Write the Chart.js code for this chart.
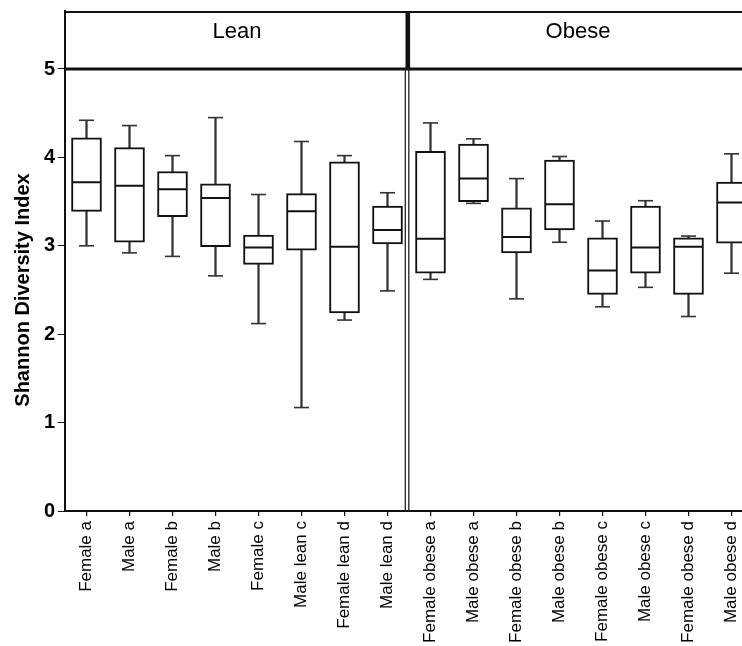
<!DOCTYPE html>
<html>
<head>
<meta charset="utf-8">
<script src="https://cdn.jsdelivr.net/npm/chart.js@4.4.0/dist/chart.umd.min.js"></script>
<style>
  html, body { margin: 0; padding: 0; background: #fff; overflow: hidden; width: 742px; height: 646px; }
  canvas { display: block; }
</style>
</head>
<body>
<canvas id="c" width="756" height="646"></canvas>
<script>
// Groups along the x axis (first eight lean, last eight obese)
const categories = [
  'Female a', 'Male a', 'Female b', 'Male b',
  'Female c', 'Male lean c', 'Female lean d', 'Male lean d',
  'Female obese a', 'Male obese a', 'Female obese b', 'Male obese b',
  'Female obese c', 'Male obese c', 'Female obese d', 'Male obese d'
];

// Five-number summaries of the Shannon index per group
const mins    = [3.00, 2.92, 2.88, 2.66, 2.12, 1.17, 2.16, 2.49, 2.62, 3.48, 2.40, 3.04, 2.31, 2.53, 2.20, 2.69];
const q1s     = [3.39, 3.04, 3.33, 2.99, 2.79, 2.95, 2.24, 3.02, 2.69, 3.50, 2.92, 3.18, 2.45, 2.69, 2.45, 3.03];
const medians = [3.72, 3.68, 3.64, 3.54, 2.98, 3.39, 2.99, 3.18, 3.08, 3.76, 3.10, 3.47, 2.72, 2.98, 2.99, 3.49];
const q3s     = [4.22, 4.11, 3.84, 3.70, 3.12, 3.59, 3.95, 3.45, 4.07, 4.15, 3.43, 3.97, 3.09, 3.45, 3.09, 3.72];
const maxs    = [4.42, 4.36, 4.02, 4.45, 3.58, 4.18, 4.02, 3.60, 4.39, 4.21, 3.76, 4.01, 3.28, 3.51, 3.11, 4.04];

// Panel strip labels and the number of groups in each panel
const panelNames = ['Lean', 'Obese'];
const panelSize = 8;

// Value axis: ticks 0..5, strip area above 5
const yTickValues = [0, 1, 2, 3, 4, 5];
const stripBottom = 5;
const yTop = 5.656;
const yTitle = 'Shannon Diversity Index';

const boxes = categories.map((_, i) => [q1s[i], q3s[i]]);
const whiskers = categories.map((_, i) => [mins[i], maxs[i]]);

const INK = '#111';
const WHISKER = '#333';

// Panel strip, panel divider and the rotated axis title
const panelFrame = {
  id: 'panelFrame',
  afterDraw(chart) {
    const { ctx, chartArea: a } = chart;
    const xs = chart.scales.x, ys = chart.scales.y;
    const yStrip = ys.getPixelForValue(stripBottom);
    const xd = (xs.getPixelForTick(panelSize - 1) + xs.getPixelForTick(panelSize)) / 2;
    ctx.save();
    ctx.strokeStyle = INK;
    // strip top edge
    ctx.lineWidth = 2;
    ctx.beginPath(); ctx.moveTo(a.left, a.top + 1); ctx.lineTo(a.right, a.top + 1); ctx.stroke();
    // strip bottom edge (at 5)
    ctx.lineWidth = 3;
    ctx.beginPath(); ctx.moveTo(a.left, yStrip); ctx.lineTo(a.right, yStrip); ctx.stroke();
    // divider inside the strip
    ctx.lineWidth = 4.6;
    ctx.beginPath(); ctx.moveTo(xd - 1.2, a.top); ctx.lineTo(xd - 1.2, yStrip); ctx.stroke();
    // double divider inside the plot
    ctx.lineWidth = 1.3;
    ctx.strokeStyle = '#222';
    ctx.beginPath();
    ctx.moveTo(xd - 3.7, yStrip); ctx.lineTo(xd - 3.7, a.bottom + 1);
    ctx.moveTo(xd - 0.2, yStrip); ctx.lineTo(xd - 0.2, a.bottom + 1);
    ctx.stroke();
    // strip labels
    ctx.fillStyle = '#000';
    ctx.font = '22px "Liberation Sans", Arial, sans-serif';
    ctx.textAlign = 'center';
    ctx.textBaseline = 'alphabetic';
    ctx.fillText(panelNames[0], (a.left + xd) / 2, a.top + 27);
    ctx.fillText(panelNames[1], (xd + a.right) / 2 - 3, a.top + 27);
    // axis title, centred on the 0..5 range
    const yMid = (ys.getPixelForValue(0) + yStrip) / 2;
    ctx.font = 'bold 20px "Liberation Sans", Arial, sans-serif';
    ctx.translate(28.5, yMid);
    ctx.rotate(-Math.PI / 2);
    ctx.fillText(yTitle, 0, 0);
    ctx.restore();
  }
};

new Chart(document.getElementById('c'), {
  type: 'bar',
  data: {
    labels: categories,
    datasets: [
      {
        type: 'line', label: 'median', data: medians, order: 0,
        showLine: false, pointStyle: 'line', pointRadius: 14.5, pointHoverRadius: 14.5,
        pointBorderWidth: 2, pointBorderColor: INK, borderColor: INK
      },
      {
        label: 'box', data: boxes, order: 1, grouped: false,
        barThickness: 30, backgroundColor: '#fff', borderColor: INK,
        borderWidth: 2, borderSkipped: false
      },
      {
        type: 'line', label: 'max', data: maxs, order: 2,
        showLine: false, pointStyle: 'line', pointRadius: 7.5, pointHoverRadius: 7.5,
        pointBorderWidth: 1.6, pointBorderColor: WHISKER, borderColor: WHISKER
      },
      {
        type: 'line', label: 'min', data: mins, order: 2,
        showLine: false, pointStyle: 'line', pointRadius: 7.5, pointHoverRadius: 7.5,
        pointBorderWidth: 1.6, pointBorderColor: WHISKER, borderColor: WHISKER
      },
      {
        label: 'whisker', data: whiskers, order: 3, grouped: false,
        barThickness: 1.6, backgroundColor: WHISKER, borderWidth: 0
      }
    ]
  },
  options: {
    responsive: false,
    animation: false,
    events: [],
    layout: { autoPadding: false, padding: { top: 11, right: 3, left: 0, bottom: 0 } },
    plugins: { legend: { display: false }, tooltip: { enabled: false } },
    scales: {
      x: {
        offset: true,
        grid: { offset: false, drawOnChartArea: false, drawTicks: true, tickLength: 5, color: INK, lineWidth: 1.2 },
        border: { display: true, color: INK, width: 2 },
        ticks: {
          autoSkip: false, maxRotation: 90, minRotation: 90, padding: 5,
          color: '#000', font: { family: '"Liberation Sans", Arial, sans-serif', size: 17 }
        },
        afterFit(scale) {
          scale.height = 135;
          scale.paddingLeft = 0;
          scale.paddingRight = 0;
        }
      },
      y: {
        min: 0, max: yTop,
        afterBuildTicks(scale) { scale.ticks = yTickValues.map(v => ({ value: v })); },
        grid: { drawOnChartArea: false, drawTicks: true, tickLength: 7, color: INK, lineWidth: 1 },
        border: { display: true, color: INK, width: 2 },
        ticks: {
          padding: 3, color: '#000',
          font: { family: '"Liberation Sans", Arial, sans-serif', size: 20, weight: 'bold' }
        },
        afterFit(scale) {
          scale.width = 65;
          scale.paddingTop = 0;
          scale.paddingBottom = 0;
        }
      }
    }
  },
  plugins: [panelFrame]
});
</script>
</body>
</html>
